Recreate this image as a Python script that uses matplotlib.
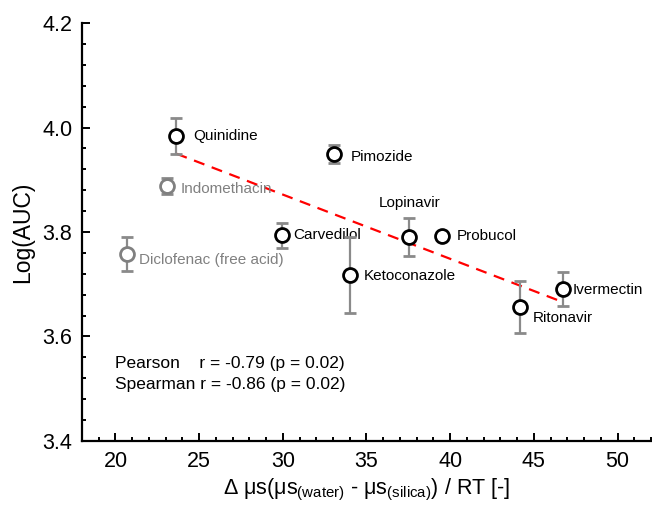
import numpy as np
import matplotlib.pyplot as plt
from matplotlib.ticker import MultipleLocator

plt.rcParams["font.family"] = ["Liberation Sans", "DejaVu Sans"]
plt.rcParams["mathtext.fontset"] = "custom"
plt.rcParams["mathtext.rm"] = "Liberation Sans"

# drugs with measured AUC
names = ["Quinidine", "Carvedilol", "Pimozide", "Ketoconazole",
         "Lopinavir", "Probucol", "Ritonavir", "Ivermectin"]
dmu = [23.64, 29.97, 33.07, 34.03, 37.55, 39.52, 44.18, 46.75]
log_auc = [3.984, 3.794, 3.949, 3.718, 3.790, 3.792, 3.656, 3.691]
log_auc_err = [0.034, 0.024, 0.017, 0.073, 0.036, 0.008, 0.050, 0.032]

# acids, excluded from fit
acid_names = ["Indomethacin", "Diclofenac (free acid)"]
acid_dmu = [23.10, 20.66]
acid_log_auc = [3.888, 3.758]
acid_err = [0.015, 0.033]

pearson_txt = "Pearson    r = -0.79 (p = 0.02)"
spearman_txt = "Spearman r = -0.86 (p = 0.02)"

# label offsets in pixels (dx, dy, ha)
label_offsets = [(17, 0, "left"), (11, 0, "left"), (17, -3, "left"),
                 (13, -1, "left"), (0, 34, "center"), (15, 0, "left"),
                 (13, -11, "left"), (9, -1, "left")]
acid_offsets = [(13, -3, "left"), (12, -6, "left")]

fig = plt.figure(figsize=(6.52, 5.05), dpi=100)
ax = fig.add_axes([82 / 652, 64 / 505, 569 / 652, 418 / 505])

# linear fit through the black points
coef = np.polyfit(dmu, log_auc, 1)
xs = np.array([min(dmu), max(dmu)])
ax.plot(xs, np.polyval(coef, xs), "--", color="#ff0000", lw=1.6,
        dashes=(5, 3.5), zorder=2)

ax.errorbar(acid_dmu, acid_log_auc, yerr=acid_err, fmt="o", ms=10,
            mfc="white", mec="#808080", mew=2, ecolor="#8a8a8a",
            elinewidth=1.6, capsize=4, capthick=1.6, zorder=3)
ax.errorbar(dmu, log_auc, yerr=log_auc_err, fmt="o", ms=10,
            mfc="white", mec="black", mew=2, ecolor="#8a8a8a",
            elinewidth=1.6, capsize=4, capthick=1.6, zorder=4)

for n, x, y, (dx, dy, ha) in zip(names, dmu, log_auc, label_offsets):
    ax.annotate(n, (x, y), xytext=(dx, dy), textcoords="offset pixels",
                ha=ha, va="center", fontsize=11, color="black")
for n, x, y, (dx, dy, ha) in zip(acid_names, acid_dmu, acid_log_auc, acid_offsets):
    ax.annotate(n, (x, y), xytext=(dx, dy), textcoords="offset pixels",
                ha=ha, va="center", fontsize=11, color="#808080")

ax.text(20, 3.548, pearson_txt, fontsize=12.5, va="center")
ax.text(20, 3.508, spearman_txt, fontsize=12.5, va="center")

ax.set_xlim(18, 52)
ax.set_ylim(3.4, 4.2)
ax.xaxis.set_major_locator(MultipleLocator(5))
ax.xaxis.set_minor_locator(MultipleLocator(1))
ax.yaxis.set_major_locator(MultipleLocator(0.2))
ax.yaxis.set_minor_locator(MultipleLocator(0.04))
ax.yaxis.set_major_formatter(plt.FormatStrFormatter("%.1f"))
ax.set_xticks([20, 25, 30, 35, 40, 45, 50])

for s in ["top", "right"]:
    ax.spines[s].set_visible(False)
for s in ["left", "bottom"]:
    ax.spines[s].set_linewidth(1.6)
ax.tick_params(which="both", direction="in", width=1.4, labelsize=15.5)
ax.tick_params(which="major", length=6, pad=7)
ax.tick_params(which="minor", length=3)

ax.set_ylabel("Log(AUC)", fontsize=16.5, labelpad=6)
ax.set_xlabel("Δ μs(μs$_{\\rm (water)}$ - μs$_{\\rm (silica)}$) / RT [-]",
              fontsize=15.5, labelpad=4)

fig.savefig("out.png", dpi=100)
